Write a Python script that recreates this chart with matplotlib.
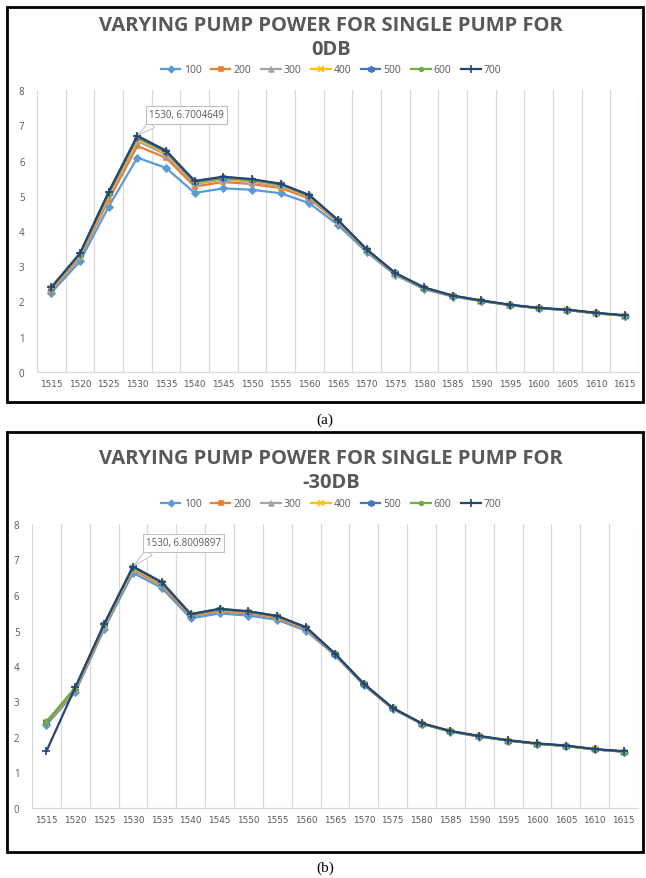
import matplotlib
matplotlib.use('Agg')
import matplotlib.pyplot as plt
from matplotlib.lines import Line2D
from matplotlib.patches import Rectangle

plt.rcParams['font.family'] = ['Open Sans', 'DejaVu Sans']

# wavelength categories (nm)
wavelengths = [1515, 1520, 1525, 1530, 1535, 1540, 1545, 1550, 1555, 1560, 1565,
               1570, 1575, 1580, 1585, 1590, 1595, 1600, 1605, 1610, 1615]
pump_powers = ['100', '200', '300', '400', '500', '600', '700']

# gain for 0 dB input, one list per pump power
g0_100 = [2.25, 3.14, 4.69, 6.08, 5.79, 5.08, 5.21, 5.17, 5.07, 4.79, 4.17, 3.40, 2.75, 2.35, 2.14, 2.01, 1.90, 1.81, 1.76, 1.66, 1.60]
g0_200 = [2.31, 3.25, 4.88, 6.41, 6.08, 5.26, 5.39, 5.33, 5.22, 4.92, 4.25, 3.44, 2.78, 2.37, 2.15, 2.02, 1.90, 1.81, 1.76, 1.67, 1.60]
g0_300 = [2.35, 3.30, 4.98, 6.55, 6.17, 5.33, 5.46, 5.40, 5.27, 4.96, 4.28, 3.45, 2.79, 2.38, 2.16, 2.02, 1.90, 1.81, 1.76, 1.67, 1.60]
g0_400 = [2.37, 3.33, 5.03, 6.62, 6.22, 5.37, 5.49, 5.43, 5.30, 4.98, 4.29, 3.46, 2.80, 2.39, 2.16, 2.02, 1.90, 1.81, 1.76, 1.67, 1.60]
g0_500 = [2.39, 3.35, 5.07, 6.66, 6.25, 5.39, 5.51, 5.45, 5.32, 5.00, 4.30, 3.47, 2.80, 2.39, 2.16, 2.02, 1.90, 1.81, 1.76, 1.67, 1.60]
g0_600 = [2.40, 3.36, 5.09, 6.69, 6.27, 5.41, 5.53, 5.46, 5.33, 5.01, 4.31, 3.47, 2.80, 2.39, 2.16, 2.02, 1.90, 1.81, 1.76, 1.67, 1.60]
g0_700 = [2.40, 3.37, 5.11, 6.7004649, 6.28, 5.42, 5.54, 5.47, 5.34, 5.02, 4.31, 3.48, 2.81, 2.40, 2.17, 2.03, 1.91, 1.82, 1.77, 1.68, 1.61]

# gain for -30 dB input
g30_100 = [2.34, 3.26, 5.04, 6.62, 6.20, 5.34, 5.48, 5.42, 5.30, 4.99, 4.30, 3.46, 2.79, 2.37, 2.15, 2.01, 1.90, 1.81, 1.75, 1.65, 1.59]
g30_200 = [2.38, 3.31, 5.10, 6.70, 6.27, 5.40, 5.54, 5.48, 5.35, 5.03, 4.32, 3.48, 2.80, 2.38, 2.16, 2.02, 1.90, 1.81, 1.75, 1.65, 1.59]
g30_300 = [2.40, 3.34, 5.13, 6.74, 6.31, 5.43, 5.57, 5.51, 5.38, 5.05, 4.33, 3.49, 2.81, 2.38, 2.16, 2.02, 1.90, 1.81, 1.75, 1.65, 1.59]
g30_400 = [2.41, 3.36, 5.15, 6.77, 6.33, 5.44, 5.59, 5.52, 5.39, 5.07, 4.34, 3.49, 2.81, 2.38, 2.16, 2.02, 1.90, 1.81, 1.75, 1.65, 1.59]
g30_500 = [2.42, 3.38, 5.17, 6.79, 6.35, 5.45, 5.60, 5.53, 5.40, 5.08, 4.34, 3.49, 2.81, 2.38, 2.16, 2.02, 1.90, 1.81, 1.75, 1.65, 1.59]
g30_600 = [2.43, 3.39, 5.18, 6.80, 6.36, 5.46, 5.61, 5.54, 5.41, 5.09, 4.34, 3.49, 2.81, 2.38, 2.16, 2.02, 1.90, 1.81, 1.75, 1.65, 1.59]
g30_700 = [1.60, 3.40, 5.18, 6.8009897, 6.36, 5.46, 5.61, 5.54, 5.41, 5.09, 4.35, 3.50, 2.82, 2.39, 2.17, 2.03, 1.91, 1.82, 1.76, 1.66, 1.60]

colors = ['#5B9BD5', '#ED7D31', '#A5A5A5', '#FFC000', '#4472C4', '#70AD47', '#264478']
markers = ['D', 's', '^', 'x', (6, 2, 0), 'o', '+']
msizes = [3.5, 3.5, 4, 5, 5.5, 3, 6]

TXT = '#595959'
GRID = '#D9D9D9'

W, H = 646, 879
fig = plt.figure(figsize=(W / 100, H / 100), dpi=100)


def fx(px):
    return px / W


def fy(py):
    return 1 - py / H


def draw_panel(series, box, plot, title, legend_y, peak_idx, callout_xy, caption, caption_y):
    # outer chart border
    x0, y0, x1, y1 = box
    fig.patches.append(Rectangle((fx(x0), fy(y1)), fx(x1 - x0), (y1 - y0) / H,
                                 transform=fig.transFigure, fill=False,
                                 ec='black', lw=2.0, zorder=0))
    l, t, r, b = plot
    ax = fig.add_axes([fx(l), fy(b), fx(r - l), (b - t) / H])
    xs = list(range(len(wavelengths)))
    for vals, c, m, ms in zip(series, colors, markers, msizes):
        ax.plot(xs, vals, color=c, lw=1.6, marker=m, ms=ms, mfc=c, mec=c,
                mew=1.2, zorder=3)
    ax.set_xlim(-0.5, len(wavelengths) - 0.5)
    ax.set_ylim(0, 8)
    ax.set_xticks(xs)
    ax.set_xticklabels([str(w) for w in wavelengths], fontsize=6.4, color=TXT,
                       family='DejaVu Sans')
    ax.set_xticks([i - 0.5 for i in range(len(wavelengths) + 1)], minor=True)
    ax.set_yticks(range(0, 9))
    ax.set_yticklabels([str(v) for v in range(0, 9)], fontsize=7, color=TXT)
    ax.tick_params(axis='both', which='both', length=0, pad=5)
    ax.tick_params(axis='y', pad=9)
    ax.grid(True, which='minor', axis='x', color=GRID, lw=0.9)
    ax.grid(False, which='major')
    for s in ['top', 'right', 'left']:
        ax.spines[s].set_visible(False)
    ax.spines['bottom'].set_color(GRID)
    ax.spines['bottom'].set_linewidth(0.9)

    # data callout on the peak of the 700 curve
    peak = series[-1][peak_idx]
    ax.annotate(f'{wavelengths[peak_idx]}, {peak}', xy=(peak_idx, peak),
                xytext=callout_xy, textcoords='figure pixels',
                fontsize=7, color=TXT, ha='left', va='center',
                bbox=dict(boxstyle='square,pad=0.35', fc='white', ec='#BFBFBF', lw=0.8),
                arrowprops=dict(arrowstyle='wedge,tail_width=0.9,shrink_factor=0.5',
                                fc='white', ec='#BFBFBF', lw=0.7, relpos=(0.1, 0.0),
                                shrinkA=0, shrinkB=1),
                zorder=5)

    fig.text(fx(331), fy(title[1]), title[0], ha='center', va='center',
             fontsize=14.5, fontweight='bold', color=TXT, linespacing=1.3)

    handles = [Line2D([], [], color=c, lw=1.6, marker=m, ms=ms * 0.9, mfc=c, mec=c, mew=1.2)
               for c, m, ms in zip(colors, markers, msizes)]
    fig.legend(handles, pump_powers, loc='center', bbox_to_anchor=(fx(331), fy(legend_y)),
               ncol=7, frameon=False, fontsize=7.5, handlelength=1.9,
               handletextpad=0.3, columnspacing=0.9, labelcolor=TXT)

    fig.text(fx(325), fy(caption_y), caption, ha='center', va='center',
             fontsize=11, family='Liberation Serif', color='black')
    return ax


draw_panel([g0_100, g0_200, g0_300, g0_400, g0_500, g0_600, g0_700],
           box=(7, 8, 643, 403), plot=(37, 91, 639, 373),
           title=('VARYING PUMP POWER FOR SINGLE PUMP FOR\n0DB', 38),
           legend_y=71, peak_idx=3, callout_xy=(149, H - 116),
           caption='(a)', caption_y=420)

draw_panel([g30_100, g30_200, g30_300, g30_400, g30_500, g30_600, g30_700],
           box=(7, 433, 643, 853), plot=(32, 525, 638, 809),
           title=('VARYING PUMP POWER FOR SINGLE PUMP FOR\n-30DB', 471),
           legend_y=505, peak_idx=3, callout_xy=(146, H - 544),
           caption='(b)', caption_y=868)

fig.savefig('out.png', dpi=100)
